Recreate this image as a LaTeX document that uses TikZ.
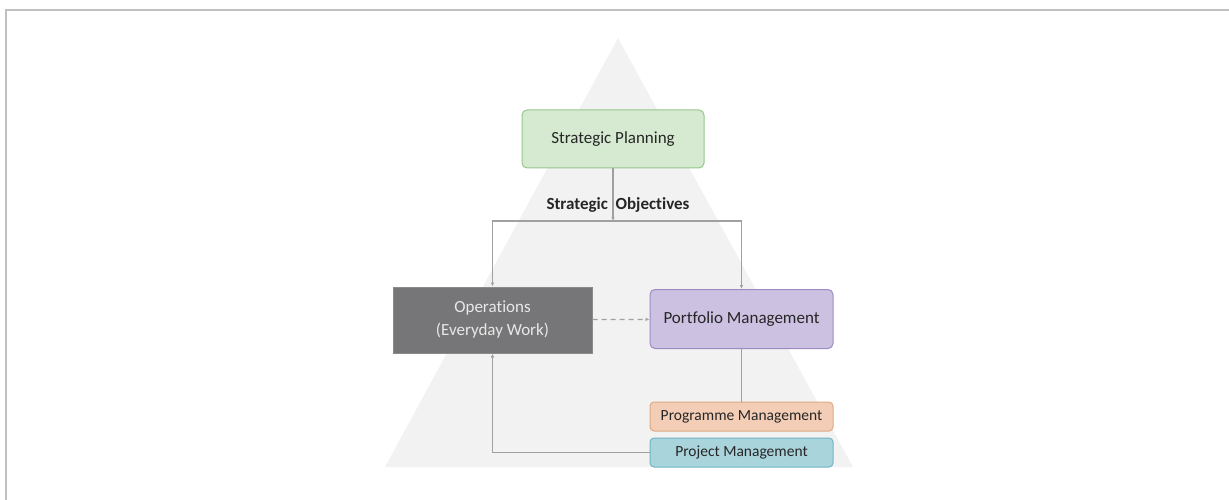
\documentclass[tikz,border=0pt]{standalone}
\usepackage{fontspec}
\setmainfont{Carlito}[Ligatures=NoCommon]
\usepackage{xcolor}
\usetikzlibrary{arrows.meta}
\definecolor{Frame}{HTML}{C0C0C0}
\definecolor{Pyramid}{HTML}{F2F2F2}
\definecolor{Wire}{HTML}{A0A0A0}
\definecolor{Ink}{HTML}{262626}
\definecolor{PlanFill}{HTML}{D5EAD0}
\definecolor{PlanLine}{HTML}{96C68C}
\definecolor{OpsFill}{HTML}{767577}
\definecolor{OpsText}{HTML}{E8E8E8}
\definecolor{PortFill}{HTML}{CDC1E2}
\definecolor{PortLine}{HTML}{9D8BC4}
\definecolor{ProgFill}{HTML}{F3CDB6}
\definecolor{ProgLine}{HTML}{E0A983}
\definecolor{ProjFill}{HTML}{A9D4DC}
\definecolor{ProjLine}{HTML}{72B5C3}

\begin{document}
\begin{tikzpicture}[
  x=1pt,y=-1pt,
  plan/.style={rounded corners=5pt,draw=PlanLine,fill=PlanFill,line width=1pt,minimum width=182pt,minimum height=58pt,inner sep=0pt,text=Ink,font=\fontsize{17}{23}\selectfont},
  ops/.style={draw=OpsFill!85!white,fill=OpsFill,line width=1pt,minimum width=199pt,minimum height=66pt,inner sep=0pt,align=center,text=OpsText,font=\fontsize{17}{23}\selectfont},
  port/.style={rounded corners=5pt,draw=PortLine,fill=PortFill,line width=1pt,minimum width=183pt,minimum height=59pt,inner sep=0pt,text=Ink,font=\fontsize{17}{23}\selectfont},
  prog/.style={rounded corners=4pt,draw=ProgLine,fill=ProgFill,line width=1pt,minimum width=183pt,minimum height=29pt,inner sep=0pt,text=Ink,font=\fontsize{15.5}{18}\selectfont},
  proj/.style={rounded corners=4pt,draw=ProjLine,fill=ProjFill,line width=1pt,minimum width=183pt,minimum height=29pt,inner sep=0pt,text=Ink,font=\fontsize{15.5}{18}\selectfont},
  arrow/.style={-{Latex[length=4pt,width=3.5pt]},line width=1.3pt,draw=Wire},
  link/.style={line width=1.3pt,draw=Wire}
]
\useasboundingbox (0,0) rectangle (1229,500);
% frame and pyramid
\draw[Frame,line width=2pt] (6,500) -- (6,10) -- (1229,10);
\fill[Pyramid] (618,38) -- (853,467) -- (385,467) -- cycle;

\node[plan] (plan) at (613,139) {Strategic Planning};
\node[font=\bfseries\fontsize{17}{20}\selectfont,text=Ink] (obj) at (618,205) {Strategic\hspace{0.45em}Objectives};
\coordinate (split) at (613,221);
\node[ops] (ops) at (492.5,320) {Operations\\(Everyday Work)};
\node[port] (port) at (741.5,319) {Portfolio Management};
\node[prog] (prog) at (741.5,416.5) {Programme Management};
\node[proj] (proj) at (741.5,452.5) {Project Management};

\draw[arrow] (plan) -- (split);
\draw[arrow] (split) -| (ops.north);
\draw[arrow] (split) -| (port.north);
\draw[arrow,dashed,dash pattern=on 5pt off 4pt] (ops) -- (port);
\draw[link] (port) -- (prog);
\draw[arrow] (proj.west) -| (ops.south);
\end{tikzpicture}
\end{document}
